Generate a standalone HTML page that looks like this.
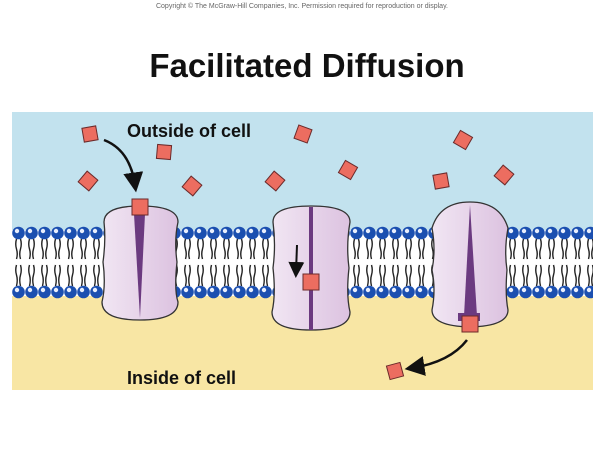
<!DOCTYPE html>
<html><head><style>body{margin:0;background:#fff}svg{display:block}</style></head><body>
<svg width="604" height="453" viewBox="0 0 604 453" xmlns="http://www.w3.org/2000/svg" font-family="Liberation Sans, sans-serif">
<defs>
<pattern id="lip" x="12" y="0" width="13" height="453" patternUnits="userSpaceOnUse">
<g stroke="#222" stroke-width="1.4" fill="none">
<path d="M4.5 239 q-1.5 5 0 10 t0 10 M8.5 239 q1.5 5 0 10 t0 10"/>
<path d="M4.5 265 q-1.5 5 0 10 t0 11 M8.5 265 q1.5 5 0 10 t0 11"/>
</g>
<circle cx="6.5" cy="233" r="6.3" fill="#1b4fb0"/><circle cx="5" cy="231" r="2.2" fill="#e8eefc"/>
<circle cx="6.5" cy="292" r="6.3" fill="#1b4fb0"/><circle cx="5" cy="290" r="2.2" fill="#e8eefc"/>
</pattern>
<linearGradient id="pg" x1="0" x2="1"><stop offset="0" stop-color="#f1e6f3"/><stop offset="1" stop-color="#dcc2e0"/></linearGradient>
<marker id="ah" markerWidth="8" markerHeight="8" refX="5" refY="4" orient="auto"><path d="M0 0 L8 4 L0 8 Z" fill="#111"/></marker>
</defs>
<text x="302" y="8" font-size="7" text-anchor="middle" fill="#666">Copyright © The McGraw-Hill Companies, Inc. Permission required for reproduction or display.</text>
<text x="307" y="77" font-size="33" font-weight="bold" text-anchor="middle" fill="#111">Facilitated Diffusion</text>
<rect x="12" y="112" width="581" height="118" fill="#c2e2ee"/>
<rect x="12" y="230" width="581" height="66" fill="#fff"/>
<rect x="12" y="296" width="581" height="94" fill="#f8e6a4"/>
<rect x="12" y="224" width="581" height="76" fill="url(#lip)"/>
<!-- protein 1 -->
<path d="M104 222 Q104 206 140 206 Q178 206 178 222 Q174 240 177 262 Q174 290 178 302 Q178 320 140 320 Q102 320 102 302 Q106 285 103 262 Q106 240 104 222Z" fill="url(#pg)" stroke="#333" stroke-width="1.3"/>
<path d="M134 214 L145 214 L140 318 Z" fill="#6b3a80"/>
<!-- protein 2 -->
<path d="M273 222 Q273 206 311 206 Q350 206 350 222 Q346 245 349 268 Q346 295 350 312 Q350 330 311 330 Q272 330 272 312 Q276 295 273 268 Q276 245 273 222Z" fill="url(#pg)" stroke="#333" stroke-width="1.3"/>
<rect x="309" y="207" width="4" height="123" fill="#6b3a80"/>
<!-- protein 3 -->
<path d="M432 228 Q440 202 470 202 Q500 202 508 228 Q504 250 507 270 Q505 295 508 310 Q508 326 470 327 Q432 326 432 310 Q436 290 432 270 Q436 250 432 228Z" fill="url(#pg)" stroke="#333" stroke-width="1.3"/>
<path d="M470 205 L464 316 L477 316 Z" fill="#6b3a80"/>
<rect x="458" y="313" width="22" height="8" fill="#6b3a80"/>
<!-- arrows -->
<path d="M104 140 Q130 150 135 185" stroke="#111" stroke-width="2.5" fill="none" marker-end="url(#ah)"/>
<path d="M297 245 L296 272" stroke="#111" stroke-width="2" fill="none" marker-end="url(#ah)"/>
<path d="M467 340 Q450 362 412 368" stroke="#111" stroke-width="2.5" fill="none" marker-end="url(#ah)"/>
<text x="127" y="137" font-size="18" font-weight="bold" fill="#111">Outside of cell</text>
<text x="127" y="384" font-size="18" font-weight="bold" fill="#111">Inside of cell</text>
<g fill="#ec6d60" stroke="#6b2a2a" stroke-width="1">
<rect x="-7" y="-7" width="14" height="14" transform="translate(90,134) rotate(-10)"/>
<rect x="-7" y="-7" width="14" height="14" transform="translate(164,152) rotate(5)"/>
<rect x="-7" y="-7" width="14" height="14" transform="translate(88,181) rotate(40)"/>
<rect x="-7" y="-7" width="14" height="14" transform="translate(192,186) rotate(40)"/>
<rect x="-8" y="-8" width="16" height="16" transform="translate(140,207)"/>
<rect x="-7" y="-7" width="14" height="14" transform="translate(275,181) rotate(40)"/>
<rect x="-7" y="-7" width="14" height="14" transform="translate(303,134) rotate(20)"/>
<rect x="-7" y="-7" width="14" height="14" transform="translate(348,170) rotate(30)"/>
<rect x="-7" y="-7" width="14" height="14" transform="translate(463,140) rotate(30)"/>
<rect x="-7" y="-7" width="14" height="14" transform="translate(441,181) rotate(-10)"/>
<rect x="-7" y="-7" width="14" height="14" transform="translate(504,175) rotate(40)"/>
<rect x="-8" y="-8" width="16" height="16" transform="translate(311,282)"/>
<rect x="-8" y="-8" width="16" height="16" transform="translate(470,324)"/>
<rect x="-7" y="-7" width="14" height="14" transform="translate(395,371) rotate(-15)"/>
</g>
</svg>
</body></html>
